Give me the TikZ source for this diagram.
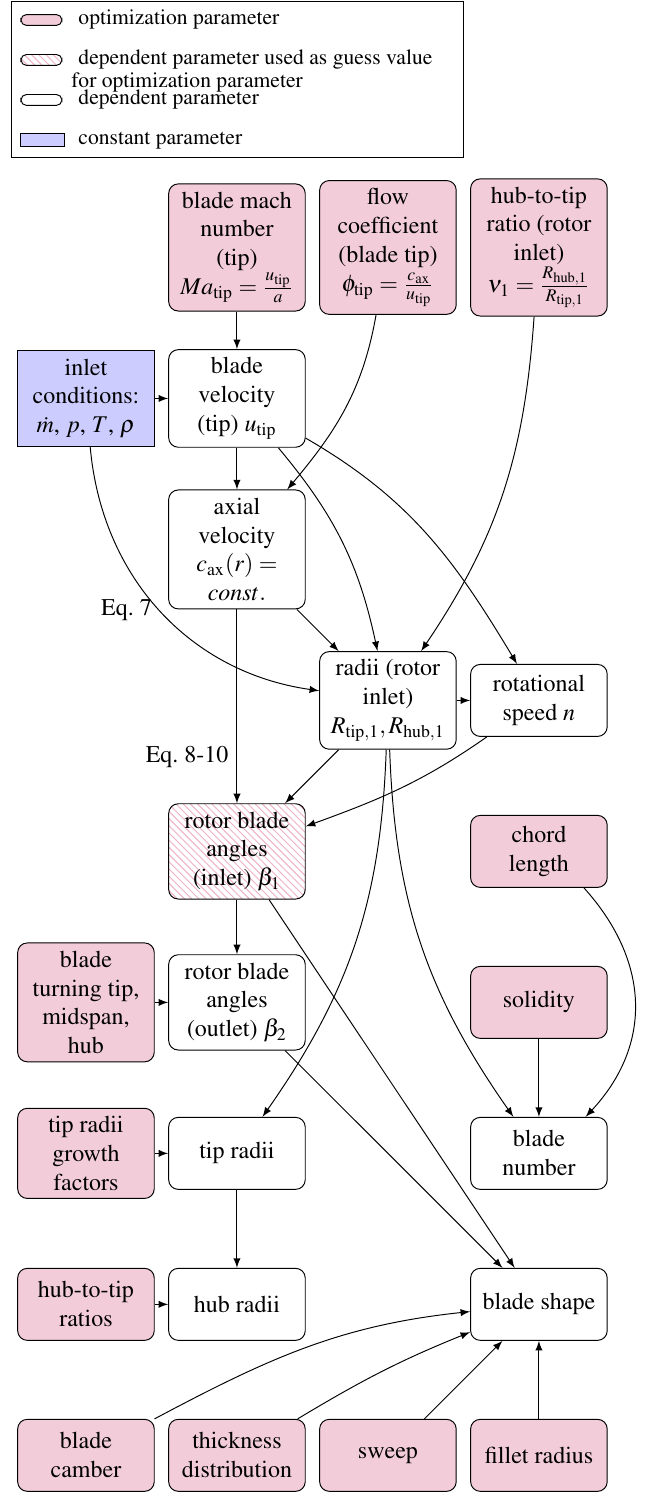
\documentclass[tikz,border=0pt]{standalone}
\usepackage[T1]{fontenc}
\usepackage{mathptmx}
\usetikzlibrary{patterns}
\tikzset{
  param/.style={draw, rounded corners, align=center, minimum width=2cm, minimum height=30pt},
  optparam/.style={param, fill=purple!20},
  depparam/.style={param, fill=white},
  guessparam/.style={param, pattern=north west lines, pattern color=purple!30},
  constparam/.style={param, sharp corners, fill=blue!20},
  legendmark/.style={draw, rounded corners=2.3pt, minimum width=0.6cm, minimum height=0.16cm, inner sep=0pt},
  legendtext/.style={anchor=base west, inner sep=0pt, align=left, font=\fontsize{9}{9.6}\selectfont},
}
\begin{document}
\begin{tikzpicture}[x=2.211cm, y=-2.211cm]
      \useasboundingbox (-1.259cm,3.624cm) rectangle (8.172cm,-18.225cm);
      \draw (-1.084cm,3.595cm) rectangle (5.521cm,1.311cm);
      \node[legendmark, fill=purple!20] (lgopt) at (-0.652cm,3.331cm) {};
      \node[legendmark, pattern=north west lines, pattern color=purple!30] (lgguess) at (-0.652cm,2.746cm) {};
      \node[legendmark, fill=white] (lgdep) at (-0.652cm,2.160cm) {};
      \node[legendmark, sharp corners, fill=blue!20, minimum width=0.63cm, minimum height=0.18cm] (lgconst) at (-0.637cm,1.574cm) {};
      \node[legendtext] (lgopttext) at (-0.117cm,3.258cm) {optimization parameter};
      \node[legendtext] (lgguesstext) at (-0.117cm,2.336cm) {dependent parameter used as guess value\\\hspace*{-3pt}for optimization parameter};
      \node[legendtext] (lgdeptext) at (-0.117cm,2.087cm) {dependent parameter};
      \node[legendtext] (lgconsttext) at (-0.117cm,1.501cm) {constant parameter};
      \path
        (1,0) node[optparam] (mach) {blade mach\\number\\(tip)\\$Ma_\mathrm{tip}=\frac{u_\mathrm{tip}}{a}$}
        (2,0) node[optparam] (flow) {flow\\coefficient\\(blade tip)\\$\phi_\mathrm{tip}=\frac{c_\mathrm{ax}}{u_\mathrm{tip}}$}
        (3,0) node[optparam] (hubtip) {hub-to-tip\\ratio (rotor\\inlet)\\$\nu_1=\frac{R_\mathrm{hub,1}}{R_\mathrm{tip,1}}$}
        (0,1) node[constparam] (inlet) {inlet\\conditions:\\$\dot m$, $p$, $T$, $\rho$}
        (1,1) node[depparam] (velocity) {blade\\velocity\\(tip) $u_\mathrm{tip}$}
        (1,2) node[depparam] (axial) {axial\\velocity\\$c_\mathrm{ax}(r)=$\\$const.$}
        (2,3) node[depparam] (radii) {radii (rotor\\inlet)\\$R_\mathrm{tip,1},R_\mathrm{hub,1}$}
        (3,3) node[depparam] (rotspeed) {rotational\\speed $n$}
        (1,4) node[guessparam] (beta1) {rotor blade\\angles\\(inlet) $\beta_1$}
        (3,4) node[optparam] (chord) {chord\\length}
        (0,5) node[optparam] (turning) {blade\\turning tip,\\midspan,\\hub}
        (1,5) node[depparam] (beta2) {rotor blade\\angles\\(outlet) $\beta_2$}
        (3,5) node[optparam] (solidity) {solidity}
        (0,6) node[optparam] (growth) {tip radii\\growth\\factors}
        (1,6) node[depparam] (tipradii) {tip radii}
        (3,6) node[depparam] (bladenum) {blade\\number}
        (0,7) node[optparam] (hubtipratios) {hub-to-tip\\ratios}
        (1,7) node[depparam] (hubradii) {hub radii}
        (3,7) node[depparam] (shape) {blade shape}
        (0,8) node[optparam] (camber) {blade\\camber}
        (1,8) node[optparam] (thickness) {thickness\\distribution}
        (2,8) node[optparam] (sweep) {sweep}
        (3,8) node[optparam] (fillet) {fillet radius};
      \begin{scope}[-latex]
        \draw (mach) to (velocity);
        \draw (inlet) to (velocity);
        \draw (flow) to[out=-100, in=50] (axial);
        \draw (velocity) to (axial);
        \draw (velocity) to[out=-50, in=102] (radii);
        \draw (velocity) to[out=-30, in=121] (rotspeed);
        \draw (hubtip) to[out=-94, in=56] (radii);
        \draw (inlet) to[out=-85, in=172] node[pos=0.5, left] {Eq.~7} (radii);
        \draw (axial) to (radii);
        \draw (axial) to node[pos=0.76, left] {Eq.~8-10} (beta1);
        \draw (radii) to (rotspeed);
        \draw (radii) to (beta1);
        \draw (rotspeed) to[out=-145, in=20] (beta1);
        \draw (radii) to[out=-92, in=55] (tipradii);
        \draw (radii) to[out=-88, in=125] (bladenum);
        \draw (beta1) to (beta2);
        \draw (beta1) to (shape);
        \draw (beta2) to (shape);
        \draw (turning) to (beta2);
        \draw (chord.-39) to[out=-48, in=47, looseness=1.1] (bladenum.38);
        \draw (solidity) to (bladenum);
        \draw (growth) to (tipradii);
        \draw (tipradii) to (hubradii);
        \draw (hubtipratios) to (hubradii);
        \draw (camber) to[out=28, in=186] (shape);
        \draw (thickness) to[out=31, in=202] (shape);
        \draw (sweep) to (shape);
        \draw (fillet) to (shape);
      \end{scope}
    \end{tikzpicture}
\end{document}
